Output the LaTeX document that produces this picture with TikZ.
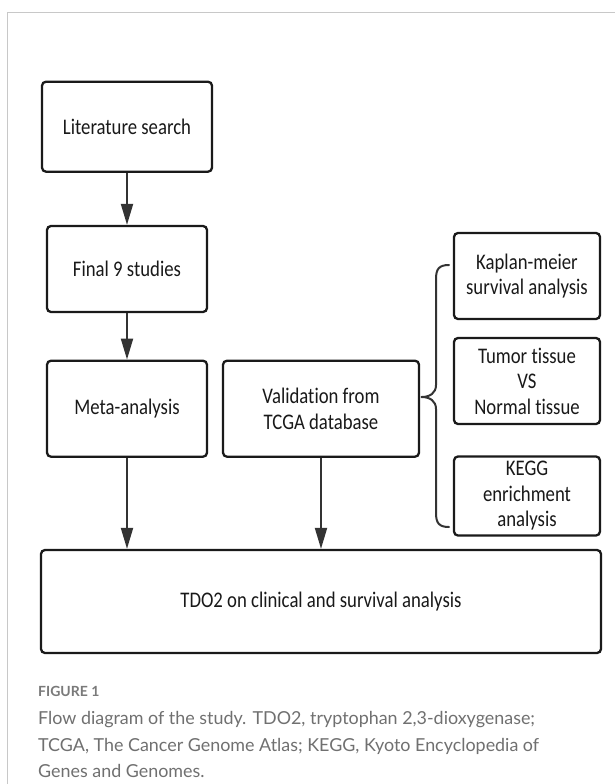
\documentclass[tikz,border=0pt]{standalone}
\usepackage{fontspec}
\usetikzlibrary{arrows.meta}
\newfontfamily\boxfont[FakeStretch=0.84,Ligatures=NoCommon]{Carlito}
\newfontfamily\capfont{Lato}
\definecolor{framegray}{HTML}{C8C8C8}
\definecolor{boxline}{HTML}{1A1A1A}
\definecolor{arrowcol}{HTML}{333333}
\definecolor{capgray}{HTML}{707070}
\definecolor{figgray}{HTML}{7A7A7A}
\tikzset{
  stepbox/.style={draw=boxline, line width=2.3pt, rounded corners=4pt, fill=white,
    inner sep=0pt, align=center, text=black!90, font=\boxfont\fontsize{22.3}{25.5}\selectfont},
  flowarrow/.style={draw=arrowcol, line width=2pt, -{Triangle[length=21pt,width=12pt]}},
  bracestyle/.style={draw=arrowcol, line width=2pt, line cap=round, line join=round},
  captext/.style={anchor=base west, inner sep=0pt, text=capgray, font=\capfont\fontsize{17.9}{26}\selectfont},
}
\begin{document}
\begin{tikzpicture}[x=1pt,y=-1pt]
\useasboundingbox (0,0) rectangle (615,784);
\fill[white] (0,0) rectangle (615,784);
% card frame
\draw[framegray, line width=1pt] (7.5,784) -- (7.5,12.5) -- (615,12.5);

% boxes
\node[stepbox, minimum width=170pt, minimum height=90pt] (lit) at (127,126.7) {Literature search};
\node[stepbox, minimum width=160pt, minimum height=86pt] (fin) at (127,269) {Final 9 studies};
\node[stepbox, minimum width=160pt, minimum height=96pt] (meta) at (127,408.7) {Meta-analysis};
\node[stepbox, minimum width=196pt, minimum height=96pt] (val) at (321,408.7) {Validation from\\TCGA database};
\node[stepbox, minimum width=146pt, minimum height=86pt] (km) at (527,276) {Kaplan-meier\\survival analysis};
\node[stepbox, minimum width=146pt, minimum height=86pt] (tum) at (527,381) {Tumor tissue\\VS\\Normal tissue};
\node[stepbox, minimum width=146pt, minimum height=79pt] (kegg) at (527,496) {KEGG\\enrichment\\analysis};
\node[stepbox, minimum width=560pt, minimum height=103pt] (tdo) at (321,601.5) {TDO2 on clinical and survival analysis};

% arrows
\draw[flowarrow] (lit.south) -- (fin.north);
\draw[flowarrow] (fin.south) -- (meta.north);
\draw[flowarrow] (meta.south) -- (meta.south |- tdo.north);
\draw[flowarrow] (val.south) -- (val.south |- tdo.north);

% brace
\coordinate (btop) at (449,265);
\coordinate (btip) at (421.5,397);
\coordinate (bbot) at (449,527);
\draw[bracestyle] (btop) .. controls (439,265) and (436,269) .. (436,279)
  -- (436,385) .. controls (436,393) and (430,397) .. (btip)
  .. controls (430,397) and (436,401) .. (436,409)
  -- (436,513) .. controls (436,523) and (439,527) .. (bbot);

% caption
\node[anchor=base west, inner sep=0pt, text=figgray, font=\capfont\bfseries\fontsize{14}{16}\selectfont] (fig) at (38,696) {FIGURE 1};
\node[captext] (cap1) at (38,724) {Flow diagram of the study. TDO2, tryptophan 2,3-dioxygenase;};
\node[captext] (cap2) at (38,751) {TCGA, The Cancer Genome Atlas; KEGG, Kyoto Encyclopedia of};
\node[captext] (cap3) at (38,777) {Genes and Genomes.};
\end{tikzpicture}
\end{document}
